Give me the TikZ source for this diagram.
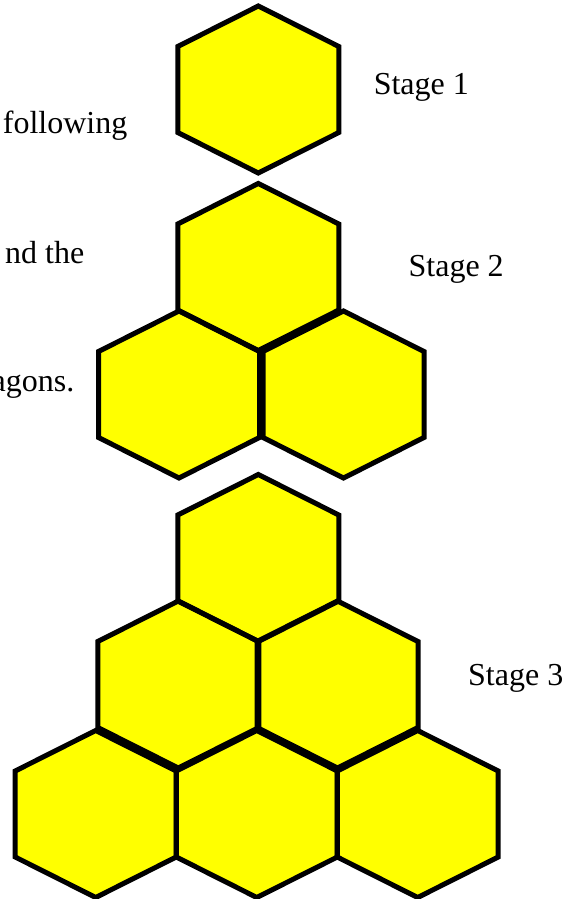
\documentclass[tikz,border=0pt]{standalone}
\usepackage{fontspec}
\setmainfont{Liberation Serif}
\definecolor{honey}{RGB}{255,255,0}

\begin{document}
\begin{tikzpicture}[x=1pt,y=-1pt,
  hexcell/.style={line width=5pt},
  caption/.style={anchor=base west,inner sep=0pt,font=\fontsize{32}{38}\selectfont}]
\useasboundingbox (0,0) rectangle (575,899);
% cell centres: stage 1, stage 2, stage 3
\def\cells{258.3/89.5, 258.3/267, 179/394.5, 343.5/394.5, 258.3/558, 178.3/684.5, 337.5/684.5, 95.7/814, 256.8/814, 417.7/814}
\foreach \cx/\cy in \cells
  \fill[honey,shift={(\cx,\cy)}] (0,-83.5) -- (80.5,-43) -- (80.5,43) -- (0,83.5) -- (-80.5,43) -- (-80.5,-43) -- cycle;
\foreach \cx/\cy in \cells
  \draw[hexcell,shift={(\cx,\cy)}] (0,-83.5) -- (80.5,-43) -- (80.5,43) -- (0,83.5) -- (-80.5,43) -- (-80.5,-43) -- cycle;
% labels
\node[caption] (stage1) at (373.6,94.3) {Stage 1};
\node[caption] (stage2) at (408.4,276.7) {Stage 2};
\node[caption] (stage3) at (468,685) {Stage 3};
\node[caption,anchor=base east] (cutA) at (127.5,133) {following};
\node[caption,anchor=base east] (cutB) at (84.5,263.3) {nd the};
\node[caption,anchor=base east] (cutC) at (74.5,391.5) {agons.};
\end{tikzpicture}
\end{document}
